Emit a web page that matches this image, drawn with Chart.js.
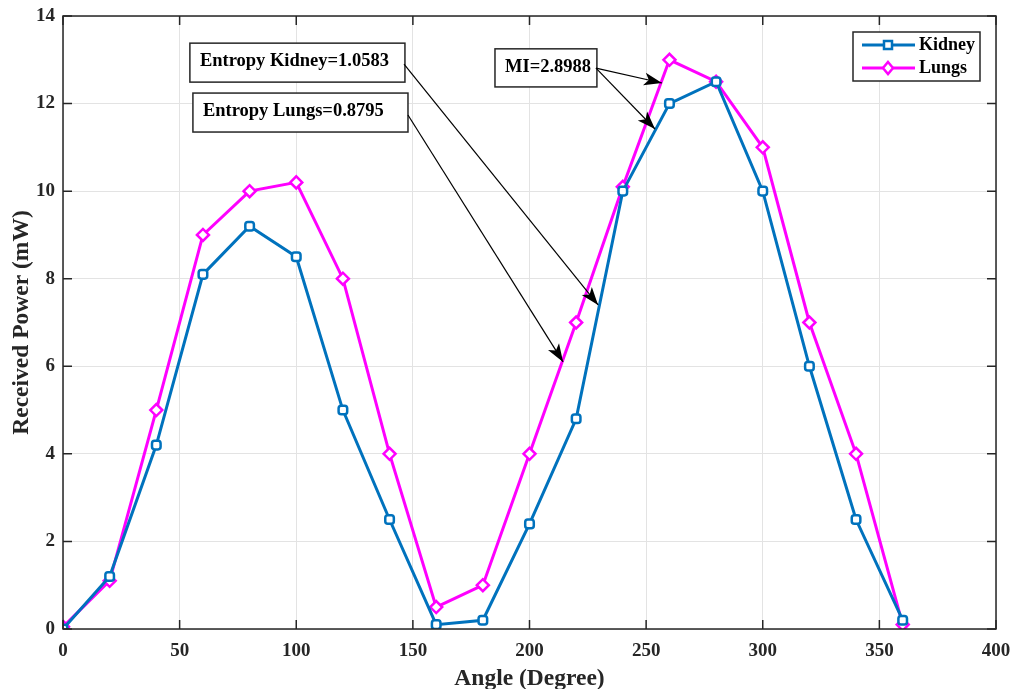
<!DOCTYPE html>
<html>
<head>
<meta charset="utf-8">
<script src="https://cdn.jsdelivr.net/npm/chart.js@4.4.1/dist/chart.umd.min.js"></script>
<style>
  html, body { margin: 0; padding: 0; background: #fff; }
  #wrap { width: 1014px; height: 689px; }
</style>
</head>
<body>
<div id="wrap"><canvas id="chart" width="1014" height="689"></canvas></div>
<script>
const angles = [0, 20, 40, 60, 80, 100, 120, 140, 160, 180, 200, 220, 240, 260, 280, 300, 320, 340, 360];
const kidney = [0, 1.2, 4.2, 8.1, 9.2, 8.5, 5.0, 2.5, 0.1, 0.2, 2.4, 4.8, 10.0, 12.0, 12.5, 10.0, 6.0, 2.5, 0.2];
const lungs = [0.05, 1.1, 5.0, 9.0, 10.0, 10.2, 8.0, 4.0, 0.5, 1.0, 4.0, 7.0, 10.1, 13.0, 12.5, 11.0, 7.0, 4.0, 0.1];
const xTicks = [0, 50, 100, 150, 200, 250, 300, 350, 400];
const yTicks = [0, 2, 4, 6, 8, 10, 12, 14];

// text boxes with arrows, anchored in data units
const notes = [
  { text: "Entropy Kidney=1.0583", box: [54.4, 13.38, 146.6, 12.49], arrows: [[146.2, 12.9, 229.4, 7.4]] },
  { text: "Entropy Lungs=0.8795", box: [55.7, 12.24, 147.9, 11.35], arrows: [[147.9, 11.74, 214.4, 6.1]] },
  { text: "MI=2.8988", box: [185.2, 13.25, 228.9, 12.38], arrows: [[228.5, 12.81, 256.8, 12.47], [228.5, 12.81, 253.8, 11.42]] }
];

const FONT = "'Liberation Serif', 'Times New Roman', serif";

function toPoints(xs, ys) {
  return xs.map((x, i) => ({ x: x, y: ys[i] }));
}

function drawArrow(ctx, x1, y1, x2, y2) {
  ctx.beginPath();
  ctx.moveTo(x1, y1);
  ctx.lineTo(x2, y2);
  ctx.stroke();
  const ang = Math.atan2(y2 - y1, x2 - x1);
  const len = 18, wid = 6.5;
  ctx.beginPath();
  ctx.moveTo(x2, y2);
  ctx.lineTo(x2 - len * Math.cos(ang) + wid * Math.sin(ang), y2 - len * Math.sin(ang) - wid * Math.cos(ang));
  ctx.lineTo(x2 - len * 0.75 * Math.cos(ang), y2 - len * 0.75 * Math.sin(ang));
  ctx.lineTo(x2 - len * Math.cos(ang) - wid * Math.sin(ang), y2 - len * Math.sin(ang) + wid * Math.cos(ang));
  ctx.closePath();
  ctx.fill();
}

const framePlugin = {
  id: "frame",
  afterDatasetsDraw(chart) {
    const { ctx, chartArea: a, scales } = chart;
    const xs = scales.x, ys = scales.y;
    ctx.save();
    // box around plot
    ctx.strokeStyle = "#262626";
    ctx.lineWidth = 1.5;
    ctx.strokeRect(a.left, a.top, a.right - a.left, a.bottom - a.top);
    // inward ticks
    ctx.beginPath();
    xTicks.forEach(v => {
      const px = xs.getPixelForValue(v);
      ctx.moveTo(px, a.bottom); ctx.lineTo(px, a.bottom - 9);
      ctx.moveTo(px, a.top); ctx.lineTo(px, a.top + 9);
    });
    yTicks.forEach(v => {
      const py = ys.getPixelForValue(v);
      ctx.moveTo(a.left, py); ctx.lineTo(a.left + 9, py);
      ctx.moveTo(a.right, py); ctx.lineTo(a.right - 9, py);
    });
    ctx.stroke();

    // annotations
    ctx.font = "bold 18.5px " + FONT;
    ctx.textBaseline = "middle";
    notes.forEach(n => {
      const bx1 = xs.getPixelForValue(n.box[0]), by1 = ys.getPixelForValue(n.box[1]);
      const bx2 = xs.getPixelForValue(n.box[2]), by2 = ys.getPixelForValue(n.box[3]);
      ctx.fillStyle = "#fff";
      ctx.fillRect(bx1, by1, bx2 - bx1, by2 - by1);
      ctx.strokeStyle = "#262626";
      ctx.lineWidth = 1.5;
      ctx.strokeRect(bx1, by1, bx2 - bx1, by2 - by1);
      ctx.fillStyle = "#000";
      ctx.textAlign = "left";
      ctx.fillText(n.text, bx1 + 10, (by1 + by2) / 2 - 1);
      ctx.strokeStyle = "#000";
      ctx.lineWidth = 1.2;
      n.arrows.forEach(r => {
        drawArrow(ctx, xs.getPixelForValue(r[0]), ys.getPixelForValue(r[1]),
          xs.getPixelForValue(r[2]), ys.getPixelForValue(r[3]));
      });
    });

    // legend box
    const lx = a.right - 143, ly = a.top + 16, lw = 127, lh = 49;
    ctx.fillStyle = "#fff";
    ctx.fillRect(lx, ly, lw, lh);
    ctx.strokeStyle = "#262626";
    ctx.lineWidth = 1.5;
    ctx.strokeRect(lx, ly, lw, lh);
    chart.data.datasets.forEach((ds, i) => {
      const yy = ly + 13 + i * 23;
      const mx = lx + 35;
      ctx.strokeStyle = ds.borderColor;
      ctx.lineWidth = 3;
      ctx.beginPath();
      ctx.moveTo(lx + 9, yy); ctx.lineTo(lx + 62, yy);
      ctx.stroke();
      ctx.lineWidth = 2.5;
      ctx.beginPath();
      if (i === 0) {
        ctx.rect(mx - 4, yy - 4, 8, 8);
      } else {
        ctx.moveTo(mx, yy - 6); ctx.lineTo(mx + 5, yy); ctx.lineTo(mx, yy + 6); ctx.lineTo(mx - 5, yy);
        ctx.closePath();
      }
      ctx.fillStyle = "#fff";
      ctx.fill();
      ctx.stroke();
      ctx.fillStyle = "#000";
      ctx.textAlign = "left";
      ctx.font = "bold 18px " + FONT;
      ctx.fillText(ds.label, lx + 66, yy);
    });
    ctx.restore();
  }
};

new Chart(document.getElementById("chart"), {
  type: "line",
  data: {
    datasets: [
      {
        label: "Kidney",
        data: toPoints(angles, kidney),
        borderColor: "#0072BD",
        backgroundColor: "#ffffff",
        borderWidth: 3,
        pointStyle: "rectRounded",
        pointRadius: 5,
        pointBorderWidth: 2.5,
        pointBackgroundColor: "#ffffff",
        tension: 0
      },
      {
        label: "Lungs",
        data: toPoints(angles, lungs),
        borderColor: "#FF00FF",
        backgroundColor: "#ffffff",
        borderWidth: 3,
        pointStyle: "rectRot",
        pointRadius: 6,
        pointBorderWidth: 2.5,
        pointBackgroundColor: "#ffffff",
        tension: 0
      }
    ]
  },
  options: {
    responsive: false,
    animation: false,
    layout: { padding: { left: 8, right: 18, top: 16, bottom: 0 } },
    plugins: { legend: { display: false }, tooltip: { enabled: false } },
    scales: {
      x: {
        type: "linear",
        min: 0,
        max: 400,
        afterBuildTicks: s => { s.ticks = xTicks.map(v => ({ value: v })); },
        afterFit: s => { s.height = 60; s.paddingLeft = 0; s.paddingRight = 0; },
        grid: { color: "#e3e3e3", drawTicks: false },
        border: { display: false },
        ticks: { color: "#262626", padding: 11, maxRotation: 0, font: { family: FONT, size: 19, weight: "bold" } },
        title: { display: true, text: "Angle (Degree)", color: "#262626", padding: { top: 0, bottom: 0 }, font: { family: FONT, size: 23.5, weight: "bold", lineHeight: 0.9 } }
      },
      y: {
        min: 0,
        max: 14,
        afterBuildTicks: s => { s.ticks = yTicks.map(v => ({ value: v })); },
        afterFit: s => { s.width = 55; s.paddingTop = 0; s.paddingBottom = 0; },
        grid: { color: "#e3e3e3", drawTicks: false },
        border: { display: false },
        ticks: { color: "#262626", padding: 8, font: { family: FONT, size: 19, weight: "bold" } },
        title: { display: true, text: "Received Power (mW)", color: "#262626", padding: 0, font: { family: FONT, size: 23.5, weight: "bold" } }
      }
    }
  },
  plugins: [framePlugin]
});
</script>
</body>
</html>
